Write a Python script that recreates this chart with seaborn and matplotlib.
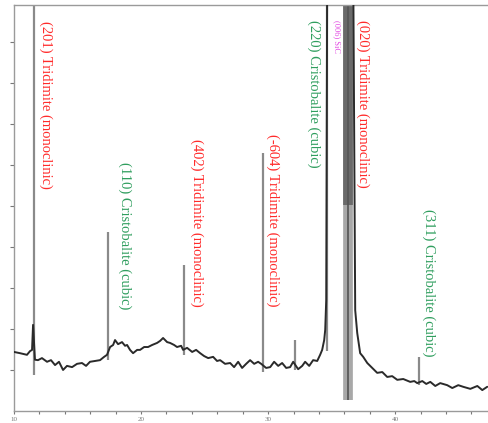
import numpy as np
import pandas as pd
import matplotlib
matplotlib.use("Agg")
import matplotlib.pyplot as plt
import seaborn as sns

# baseline of the diffraction pattern (2theta, counts)
two_theta = [10.0, 10.47, 11.02, 11.26, 11.42, 11.50, 11.65, 11.89, 12.20, 12.60, 12.91,
             13.23, 13.54, 13.86, 14.17, 14.57, 14.96, 15.35, 15.67, 15.98, 16.38,
             16.77, 17.09, 17.32, 17.56, 17.80, 17.95, 18.19, 18.50, 18.74, 18.90,
             19.13, 19.37, 19.69, 19.92, 20.24, 20.55, 20.87, 21.26, 21.50, 21.73,
             22.05, 22.28, 22.60, 22.83, 23.15, 23.31, 23.62, 24.02, 24.33, 24.65,
             24.96, 25.28, 25.67, 25.98, 26.22, 26.61, 27.01, 27.32, 27.64, 27.95,
             28.27, 28.58, 28.90, 29.21, 29.45, 29.84, 30.16, 30.47, 30.79, 31.10,
             31.42, 31.73, 31.97, 32.36, 32.68, 32.91, 33.23, 33.54, 33.86, 34.09,
             34.25, 34.41, 34.49, 34.57, 34.65, 36.69, 36.85, 37.01, 37.24, 37.48,
             37.80, 38.19, 38.58, 38.98, 39.37, 39.76, 40.16, 40.63, 41.18, 41.50,
             41.73, 42.13, 42.44, 42.76, 43.15, 43.54, 44.09, 44.49, 44.96, 45.35,
             45.91, 46.46, 46.85, 47.24]
counts = [144, 141, 137, 146, 149, 210, 125, 124, 129, 120, 124,
          112, 120, 100, 110, 107, 115, 117, 110, 120, 122,
          124, 132, 137, 156, 161, 173, 163, 168, 159, 161,
          149, 141, 149, 149, 156, 156, 161, 166, 171, 178,
          168, 166, 161, 156, 159, 149, 154, 144, 149, 141,
          134, 129, 132, 122, 124, 115, 117, 107, 120, 105,
          115, 124, 115, 120, 115, 105, 107, 120, 110, 117,
          105, 107, 120, 102, 110, 120, 110, 124, 122, 137,
          149, 173, 198, 271, 1100, 1100, 246, 190, 141, 132,
          117, 105, 93, 95, 83, 85, 76, 78, 71, 73,
          68, 73, 66, 71, 61, 68, 63, 56, 63, 59,
          54, 61, 51, 59]

# sharp reflections: position, peak top, foot of the stick
peak_pos = [11.57, 17.40, 23.39, 29.61, 32.13, 34.65, 41.89]
peak_top = [1100, 437, 356, 629, 173, 1100, 132]
peak_foot = [88, 124, 137, 95, 100, 146, 63]

sic_pos = 36.30
sic_dark_from = 502

# phase labels
labels = ["(201) Tridimite (monoclinic)", "(110) Cristobalite (cubic)",
          "(402) Tridimite (monoclinic)", "(-604) Tridimite (monoclinic)",
          "(220) Cristobalite (cubic)", "(006) SiC",
          "(020) Tridimite (monoclinic)", "(311) Cristobalite (cubic)"]
label_x = [12.52, 18.74, 24.41, 30.39, 33.62, 35.43, 37.48, 42.60]
label_y = [952, 608, 664, 676, 954, 954, 954, 493]
label_phase = ["T", "C", "T", "T", "C", "S", "T", "C"]

phase_color = {"T": "#ff2a2a", "C": "#2f9e5e", "S": "#e246e2"}

sns.set_style("white")
plt.rcParams["font.family"] = ["Liberation Serif", "DejaVu Serif"]

fig = plt.figure(figsize=(4.88, 4.23), dpi=100)
ax = fig.add_axes([14 / 488, 12 / 423, 1 - 14 / 488, 406 / 423])

df = pd.DataFrame({"two_theta": two_theta, "counts": counts})

# peak sticks
ax.vlines(peak_pos, peak_foot, peak_top, color="#8a8a8a", lw=1.6, zorder=2)
# SiC substrate reflection (saturated)
ax.vlines([sic_pos], [27], [1100], color="#a8a8a8", lw=7, zorder=2)
ax.vlines([sic_pos], [sic_dark_from], [1100], color="#6a6a6a", lw=7, zorder=2)
ax.vlines([sic_pos], [27], [1100], color="#555555", lw=1.2, zorder=2)

sns.lineplot(data=df, x="two_theta", y="counts", ax=ax, color="#2a2a2a",
             lw=1.4, zorder=3)

for txt, x, y, ph in zip(labels, label_x, label_y, label_phase):
    fs = 6 if ph == "S" else 10.5
    ax.text(x, y, txt, rotation=270, ha="center", va="top", fontsize=fs,
            color=phase_color[ph], zorder=4)

ax.set_xlim(10, 47.3)
ax.set_ylim(0, 990)
ax.set_xticks([10, 20, 30, 40])
ax.set_xticks(np.arange(10, 48, 2), minor=True)
ax.set_yticks(np.arange(100, 1000, 100))
ax.set_yticklabels([])
ax.set_xlabel("")
ax.set_ylabel("")
ax.tick_params(axis="x", which="both", bottom=True, direction="out", length=2.5,
               width=0.8, colors="#777777", labelsize=5, pad=2)
ax.tick_params(axis="y", left=True, direction="out", length=3, width=0.8,
               colors="#777777")

for side in ["left", "top", "bottom"]:
    ax.spines[side].set_color("#9a9a9a")
    ax.spines[side].set_linewidth(1.0)
ax.spines["right"].set_visible(False)

fig.savefig("out.png", dpi=100)
